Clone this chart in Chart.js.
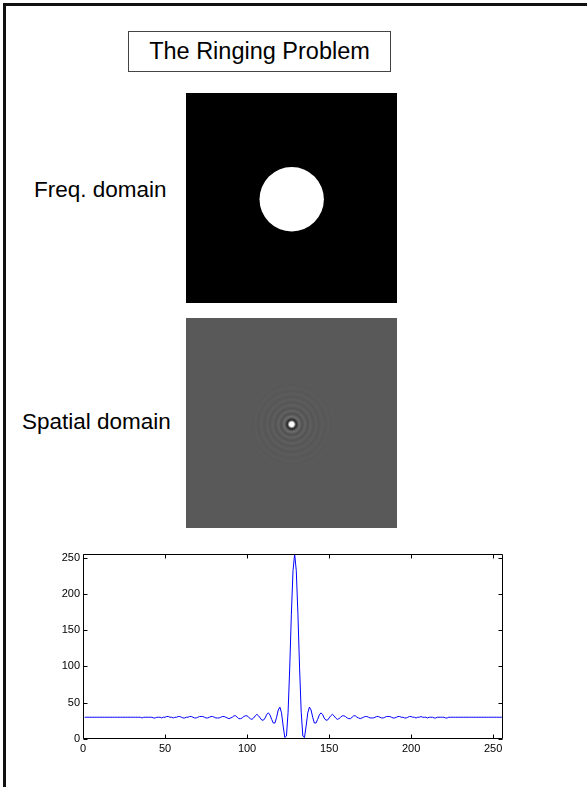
<!DOCTYPE html>
<html>
<head>
<meta charset="utf-8">
<script src="https://cdn.jsdelivr.net/npm/chart.js@4.4.1/dist/chart.umd.min.js"></script>
<style>
  html { margin: 0; padding: 0; width: 587px; height: 787px; overflow: hidden; background: #fff; }
  body { margin: 0; padding: 0; width: 587px; height: 787px; position: relative; overflow: hidden;
         background: #fff; font-family: "Liberation Sans", Arial, sans-serif; color: #000; }
  .frame { position: absolute; left: 3px; top: 3px; width: 584px; height: 784px;
           border-top: 3px solid #111; border-left: 3px solid #111; box-sizing: border-box; }
  .title { position: absolute; left: 128px; top: 31px; width: 263px; height: 41px;
           border: 1px solid #444; box-sizing: border-box; text-align: center;
           font-size: 23.5px; line-height: 39px; }
  .side { position: absolute; font-size: 22.5px; line-height: 26px; white-space: nowrap; }
  canvas.pic { position: absolute; }
  #plotBox { position: absolute; left: 40px; top: 540px; width: 480px; height: 225px; }
</style>
</head>
<body>
<div class="frame"></div>
<div class="title">The Ringing Problem</div>

<div class="side" style="left:34px; top:177px;">Freq. domain</div>
<canvas class="pic" id="freqPic" width="211" height="210" style="left:186px; top:93px;"></canvas>

<div class="side" style="left:22px; top:409px;">Spatial domain</div>
<canvas class="pic" id="spatialPic" width="211" height="210" style="left:186px; top:318px;"></canvas>

<div id="plotBox"><canvas id="profileChart"></canvas></div>

<script>
// Centre row of the spatial-domain image, one value per pixel column (1..256)
const profile = [
  30,30,30,30,30,30,30,30,30,30,30,30,30,30,30,30,
  30,30,30,30,30,30,30,30,30,30,30,30,30,30,30,30,
  30,30,30,29,30,30,30,30,30,30,29,29,30,30,30,29,
  30,30,31,31,30,30,29,30,30,31,31,30,29,29,30,30,
  31,31,30,29,29,30,31,31,31,30,29,29,30,31,31,30,
  29,29,29,30,31,31,30,29,28,29,30,32,32,30,28,28,
  29,31,32,32,30,28,27,29,32,34,32,29,26,26,29,34,
  36,33,27,22,22,30,40,44,36,18,2,4,37,98,172,232,
  255,232,172,98,37,4,2,18,36,44,40,30,22,22,27,33,
  36,34,29,26,26,29,32,34,32,29,27,28,30,32,32,31,
  29,28,28,30,32,32,30,29,28,29,30,31,31,30,29,29,
  29,30,31,31,30,29,29,30,31,31,31,30,29,29,30,31,
  31,30,30,29,29,30,31,31,30,30,29,30,30,31,30,30,
  30,29,30,30,30,29,29,30,30,30,30,30,29,29,30,30,
  30,30,30,30,30,30,30,30,30,30,30,30,30,30,30,30,
  30,30,30,30,30,30,30,30,30,30,30,30,30,30,30,30
];
const xTickValues = [0, 50, 100, 150, 200, 250];
const yTickValues = [0, 50, 100, 150, 200, 250];
const xRange = [0, 256];
const yRange = [0, 255];

// Frequency-domain picture: ideal low-pass disc on black
(function () {
  const c = document.getElementById('freqPic');
  const g = c.getContext('2d');
  g.fillStyle = '#000';
  g.fillRect(0, 0, c.width, c.height);
  g.fillStyle = '#fff';
  g.beginPath();
  g.arc(105.7, 106.3, 32.2, 0, Math.PI * 2);
  g.fill();
})();

// Spatial-domain picture: grey field with a bright centre and faint rings
(function () {
  const c = document.getElementById('spatialPic');
  const g = c.getContext('2d');
  const base = 89;
  g.fillStyle = `rgb(${base},${base},${base})`;
  g.fillRect(0, 0, c.width, c.height);
  const ringStops = [
    [0, 255], [2.2, 250], [3.2, 150], [4.3, 45], [5.3, 55], [6.4, 88], [7.6, 108],
    [9, 95], [10.4, 80], [11.8, 88], [13.2, 98], [14.6, 91], [16, 83],
    [17.4, 88], [18.9, 95], [20.3, 90], [21.7, 85], [23.1, 89], [24.6, 93],
    [26, 89], [27.5, 86], [29, 89], [30.5, 92], [32, 89], [33.5, 87],
    [35, 89], [36.5, 91], [38, 89], [40, 88], [42, 90], [44, 89], [48, 89]
  ];
  const rMax = 48;
  const grad = g.createRadialGradient(105.7, 106.3, 0, 105.7, 106.3, rMax);
  ringStops.forEach(([r, v]) => grad.addColorStop(r / rMax, `rgb(${v},${v},${v})`));
  g.fillStyle = grad;
  g.beginPath();
  g.arc(105.7, 106.3, rMax, 0, Math.PI * 2);
  g.fill();
})();

// Box around the plot area with inward tick marks on all four sides
const boxAndTicks = {
  id: 'boxAndTicks',
  afterDraw(chart) {
    const { ctx, chartArea: a, scales: { x, y } } = chart;
    const L = Math.round(a.left) + 0.5, R = Math.round(a.right) - 0.5;
    const T = Math.round(a.top) + 0.5, B = Math.round(a.bottom) - 0.5;
    const len = 4;
    ctx.save();
    ctx.strokeStyle = '#000';
    ctx.lineWidth = 1;
    ctx.beginPath();
    ctx.rect(L, T, R - L, B - T);
    xTickValues.forEach(v => {
      const px = Math.round(x.getPixelForValue(v)) + 0.5;
      ctx.moveTo(px, B); ctx.lineTo(px, B - len);
      ctx.moveTo(px, T); ctx.lineTo(px, T + len);
    });
    yTickValues.forEach(v => {
      const py = Math.round(y.getPixelForValue(v)) + 0.5;
      ctx.moveTo(L, py); ctx.lineTo(L + len, py);
      ctx.moveTo(R, py); ctx.lineTo(R - len, py);
    });
    ctx.stroke();
    ctx.restore();
  }
};

const tickFont = { family: '"Liberation Sans", Arial, sans-serif', size: 11 };

new Chart(document.getElementById('profileChart'), {
  type: 'line',
  data: {
    datasets: [{
      data: profile.map((v, i) => ({ x: i + 1, y: v })),
      borderColor: '#0000ff',
      borderWidth: 1,
      pointRadius: 0,
      tension: 0,
      clip: false
    }]
  },
  options: {
    responsive: true,
    maintainAspectRatio: false,
    animation: false,
    layout: { padding: { top: 14, right: 17, left: 0, bottom: 0 } },
    plugins: { legend: { display: false }, tooltip: { enabled: false } },
    scales: {
      x: {
        type: 'linear',
        min: xRange[0], max: xRange[1],
        grid: { display: false, drawTicks: false },
        border: { display: false },
        afterBuildTicks: s => { s.ticks = xTickValues.map(v => ({ value: v })); },
        afterFit: s => { s.height = 26; },
        ticks: { font: tickFont, color: '#000', padding: 3, maxRotation: 0 }
      },
      y: {
        type: 'linear',
        min: yRange[0], max: yRange[1],
        grid: { display: false, drawTicks: false },
        border: { display: false },
        afterBuildTicks: s => { s.ticks = yTickValues.map(v => ({ value: v })); },
        afterFit: s => { s.width = 43; },
        ticks: { font: tickFont, color: '#000', padding: 3 }
      }
    }
  },
  plugins: [boxAndTicks]
});
</script>
</body>
</html>
